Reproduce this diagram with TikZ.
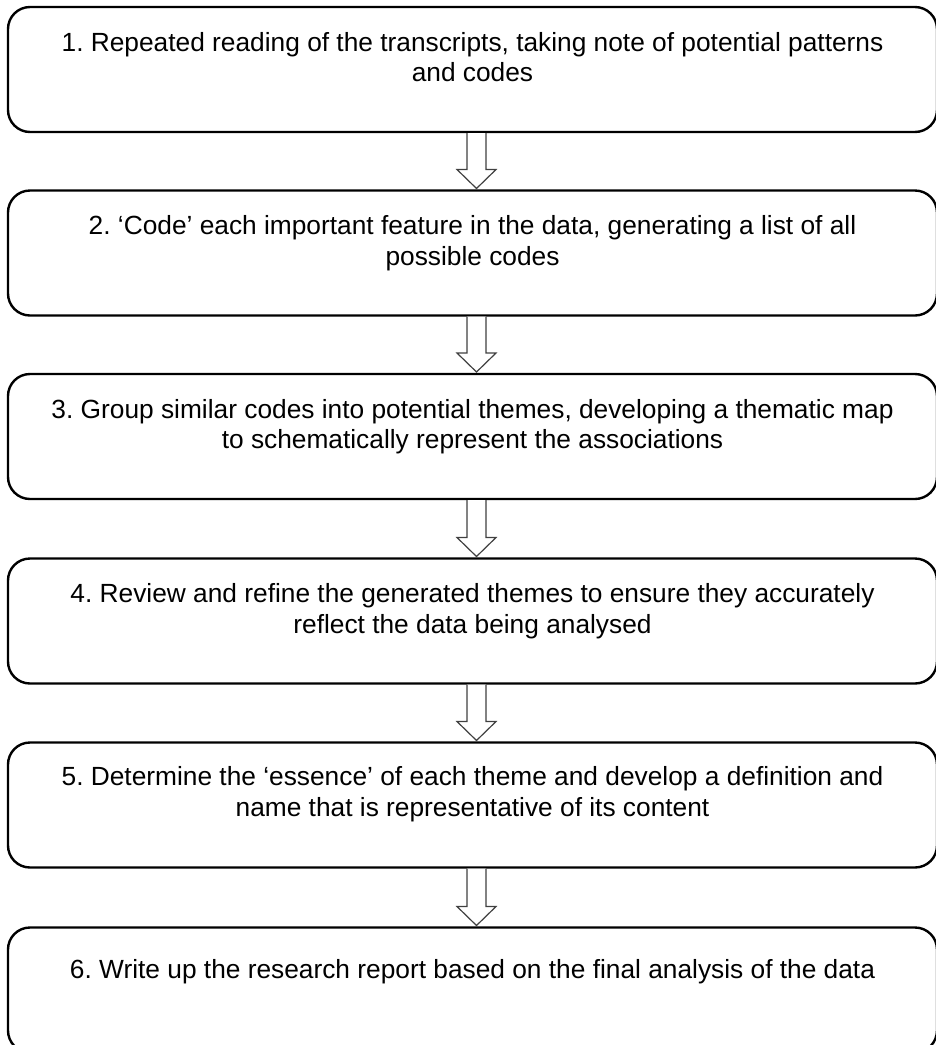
\documentclass[tikz,border=0pt]{standalone}
\usepackage{fontspec}
\setmainfont{Liberation Sans}
\usetikzlibrary{positioning,calc}
\frenchspacing

\tikzset{
  stepbox/.style={draw, line width=2.4pt, rounded corners=22pt, minimum width=929pt, minimum height=125pt, inner sep=0pt, outer sep=0pt},
  steptext/.style={align=center, inner sep=0pt, outer sep=0pt, font=\fontsize{26.3}{30.6}\selectfont},
  blockarrow/.style={draw=black!75, line width=1.2pt, fill=white, line join=miter}
}

\begin{document}
\begin{tikzpicture}[x=1pt,y=-1pt]
    \useasboundingbox (0,0) rectangle (936,1045);
    \clip (0,0) rectangle (936,1045);
    % the six steps
    \node[stepbox] (s1) at (472.5,69.5) {};
    \node[stepbox, below=58.5pt of s1] (s2) {};
    \node[stepbox, below=58.5pt of s2] (s3) {};
    \node[stepbox, below=59.5pt of s3] (s4) {};
    \node[stepbox, below=59pt of s4] (s5) {};
    \node[stepbox, below=60pt of s5] (s6) {};
    \node[steptext, below=25pt of s1.north] (t1) {1. Repeated reading of the transcripts, taking note of potential patterns\\and codes};
    \node[steptext, below=25pt of s2.north] (t2) {2. ‘Code’ each important feature in the data, generating a list of all\\possible codes};
    \node[steptext, below=25pt of s3.north] (t3) {3. Group similar codes into potential themes, developing a thematic map\\to schematically represent the associations};
    \node[steptext, below=25pt of s4.north] (t4) {4. Review and refine the generated themes to ensure they accurately\\reflect the data being analysed};
    \node[steptext, below=24pt of s5.north] (t5) {5. Determine the ‘essence’ of each theme and develop a definition and\\name that is representative of its content};
    \node[steptext, below=32pt of s6.north] (t6) {6. Write up the research report based on the final analysis of the data};
    % block arrows between the steps
    \foreach \a/\b in {s1/s2,s2/s3,s3/s4,s4/s5,s5/s6}
        \draw[blockarrow] ($(\a.south)+(-5.5,1)$) -- ($(\b.north)+(-5.5,-21)$) -- ($(\b.north)+(-15.5,-21)$)
            -- ($(\b.north)+(4,-2)$) -- ($(\b.north)+(23.5,-21)$) -- ($(\b.north)+(13.5,-21)$)
            -- ($(\a.south)+(13.5,1)$);
\end{tikzpicture}
\end{document}
